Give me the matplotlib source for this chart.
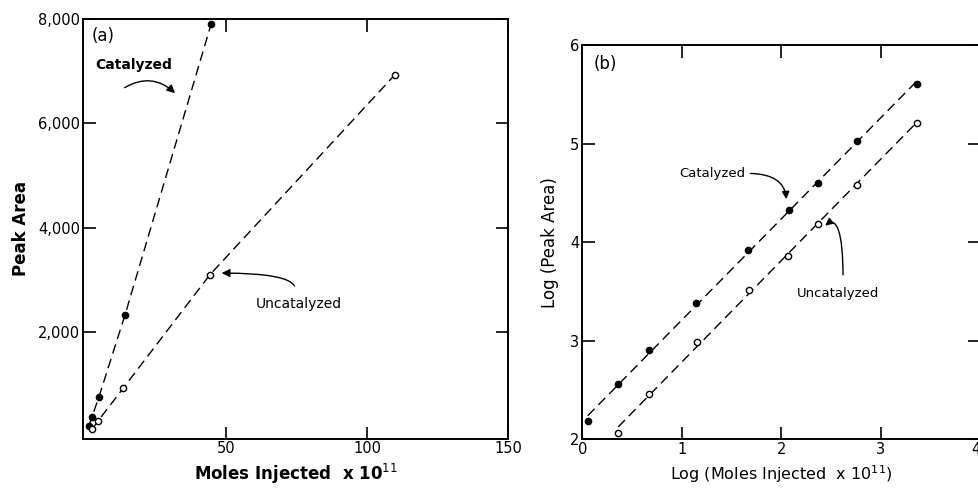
import numpy as np
import matplotlib.pyplot as plt

# panel (a): linear scale
cat_moles = [1.4, 2.5, 5.0, 14.3, 44.8]
cat_area = [198, 365, 750, 2333, 7910]
unc_moles = [2.6, 4.8, 13.7, 44.4, 109.8]
unc_area = [135, 300, 929, 3102, 6929]

# panel (b): log-log
cat_logx = [0.054, 0.36, 0.675, 1.144, 1.668, 2.074, 2.37, 2.765, 3.36]
cat_logy = [2.18, 2.556, 2.90, 3.383, 3.925, 4.325, 4.60, 5.03, 5.61]
unc_logx = [0.36, 0.668, 1.151, 1.671, 2.064, 2.366, 2.765, 3.36]
unc_logy = [2.058, 2.46, 2.983, 3.519, 3.864, 4.19, 4.583, 5.21]

a_xticks = [50, 100, 150]
a_yticks = [2000, 4000, 6000, 8000]
a_yticklabels = ["2,000", "4,000", "6,000", "8,000"]
b_xticks = [0, 1, 2, 3, 4]
b_yticks = [2, 3, 4, 5, 6]

plt.rcParams['font.family'] = ['DejaVu Sans']
DASH = (0, (7, 4))

fig = plt.figure(figsize=(9.79, 4.88), dpi=100)
ax1 = fig.add_axes([0.0848, 0.101, 0.4344, 0.860])
ax2 = fig.add_axes([0.5948, 0.1004, 0.4066, 0.8064])

for ax in (ax1, ax2):
    for s in ax.spines.values():
        s.set_linewidth(1.4)
    ax.tick_params(direction='in', length=9, width=1.2, top=True, right=True,
                   labelsize=10.5, pad=2)

# ---- (a)
ax1.plot(cat_moles, cat_area, linestyle=DASH, color='black', lw=1.0,
         marker='o', ms=4.5, mfc='black', mec='black')
ax1.plot(unc_moles, unc_area, linestyle=DASH, color='black', lw=1.0,
         marker='o', ms=4.5, mfc='white', mec='black', mew=1.0)
ax1.set_xlim(-0.6, 150)
ax1.set_ylim(-45, 8000)
ax1.set_xticks(a_xticks)
ax1.set_yticks(a_yticks)
ax1.set_yticklabels(a_yticklabels)
ax1.set_xlabel(r"Moles Injected  x 10$^{11}$", fontsize=12, fontweight='bold', labelpad=4)
ax1.set_ylabel("Peak Area", fontsize=12, fontweight='bold', labelpad=6)
ax1.text(0.021, 0.981, "(a)", transform=ax1.transAxes, fontsize=12, va='top')

ax1.text(17.5, 7112, "Catalyzed", fontsize=10, fontweight='bold', ha='center', va='center')
ax1.annotate("", xy=(32.7, 6542), xytext=(13.3, 6657),
             arrowprops=dict(arrowstyle='-|>', color='black', lw=1.0,
                             connectionstyle='arc3,rad=-0.4', mutation_scale=12))
ax1.text(75.9, 2536, "Uncatalyzed", fontsize=10, ha='center', va='center')
ax1.annotate("", xy=(47.5, 3131), xytext=(74.5, 2830),
             arrowprops=dict(arrowstyle='-|>', color='black', lw=1.0,
                             connectionstyle='angle3,angleA=90,angleB=0', mutation_scale=12))

# ---- (b)
for lx, ly, fill in ((cat_logx, cat_logy, 'black'), (unc_logx, unc_logy, 'white')):
    k, c = np.polyfit(lx, ly, 1)
    xx = np.array([lx[0], lx[-1]])
    ax2.plot(xx, k * xx + c, linestyle=DASH, color='black', lw=1.0)
    ax2.plot(lx, ly, linestyle='none', marker='o', ms=4.5, mfc=fill, mec='black', mew=1.0)
ax2.set_xlim(0, 4)
ax2.set_ylim(2, 6)
ax2.set_xticks(b_xticks)
ax2.set_yticks(b_yticks)
# last label sits on the figure edge, keep it inside
ax2.get_xticklabels()[-1].set_horizontalalignment('right')
ax2.set_xlabel(r"Log (Moles Injected  x 10$^{11}$)", fontsize=11.5, labelpad=5)
ax2.set_ylabel("Log (Peak Area)", fontsize=12, labelpad=8)
ax2.text(0.028, 0.976, "(b)", transform=ax2.transAxes, fontsize=12, va='top')

ax2.text(1.31, 4.70, "Catalyzed", fontsize=9.5, ha='center', va='center')
ax2.annotate("", xy=(2.05, 4.41), xytext=(1.66, 4.70),
             arrowprops=dict(arrowstyle='-|>', color='black', lw=1.0,
                             connectionstyle='angle3,angleA=0,angleB=90', mutation_scale=11))
ax2.text(2.57, 3.48, "Uncatalyzed", fontsize=9.5, ha='center', va='center')
ax2.annotate("", xy=(2.42, 4.15), xytext=(2.62, 3.64),
             arrowprops=dict(arrowstyle='-|>', color='black', lw=1.0,
                             connectionstyle='angle3,angleA=90,angleB=45', mutation_scale=11))

fig.savefig("out.png", dpi=100)
